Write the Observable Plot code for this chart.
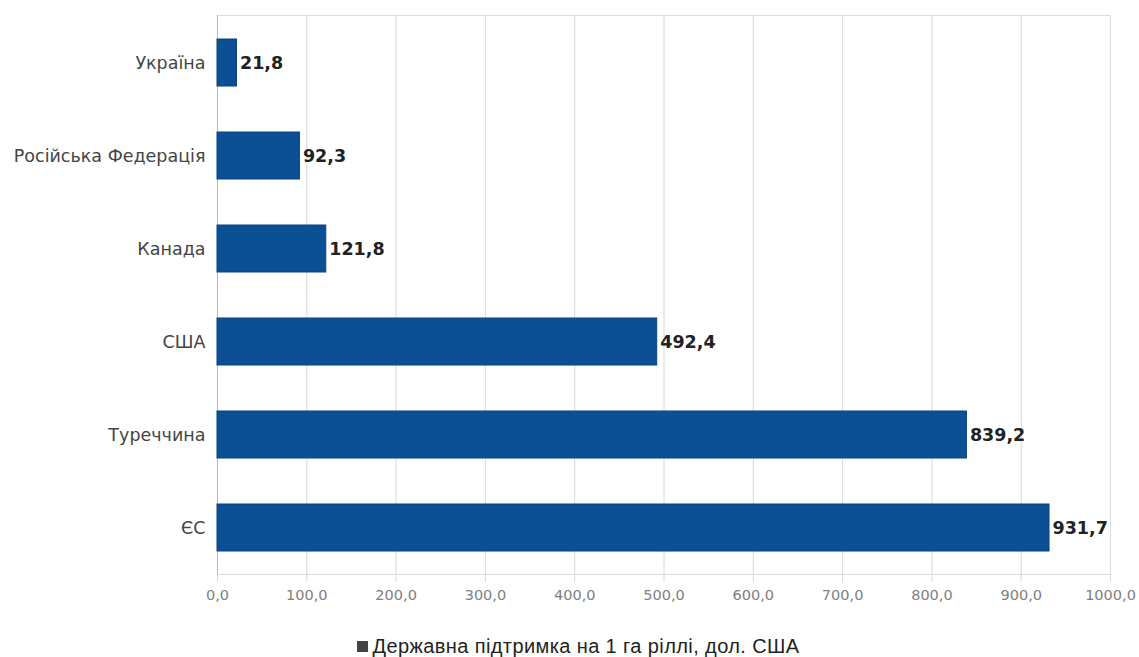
<!DOCTYPE html>
<html>
<head>
<meta charset="utf-8">
<script src="https://cdn.jsdelivr.net/npm/d3@7"></script>
<script src="https://cdn.jsdelivr.net/npm/@observablehq/plot@0.6"></script>
<style>
  html, body { margin: 0; padding: 0; background: #fff; }
  #chart svg { display: block; }
  #legend { font-family: "Liberation Sans", Arial, sans-serif; font-size: 20px; letter-spacing: 0.4px; color: #222;
    text-align: center; box-sizing: border-box; width: 1139px; height: 27px; line-height: 27px; padding-top: 3px; padding-left: 18px; }
  #legend .sw { display: inline-block; width: 11px; height: 11px; background: #444; margin-right: 4px; vertical-align: 1px; }
</style>
</head>
<body>
<div id="chart"></div>
<div id="legend"><span class="sw"></span>Державна підтримка на 1 га ріллі, дол. США</div>
<script>
const categories = ["Україна", "Російська Федерація", "Канада", "США", "Туреччина", "ЄС"];
const values = [21.8, 92.3, 121.8, 492.4, 839.2, 931.7];
const xTicks = [0, 100, 200, 300, 400, 500, 600, 700, 800, 900, 1000];

const data = categories.map((c, i) => ({category: c, value: values[i]}));
const fmt = v => v.toFixed(1).replace(".", ",");

const chart = Plot.plot({
  width: 1139,
  height: 630,
  marginLeft: 217,
  marginRight: 29,
  marginTop: 15,
  marginBottom: 56,
  style: {fontFamily: "DejaVu Sans, sans-serif", background: "#fff"},
  x: {domain: [0, 1000], ticks: xTicks, tickFormat: fmt, label: null},
  y: {domain: categories, paddingInner: 0.5, paddingOuter: 0.25, label: null},
  marks: [
    Plot.gridX(xTicks, {stroke: "#d8d8d8", strokeOpacity: 1}),
    Plot.frame({stroke: "#dcdcdc"}),
    Plot.ruleX([0], {stroke: "#b8b8b8"}),
    Plot.axisX({ticks: xTicks, tickFormat: fmt, tickSize: 8, stroke: "#d8d8d8", fill: "#808080", fontSize: 14.5, tickPadding: 7}),
    Plot.axisY({tickSize: 0, tickPadding: 12, fill: "#444", fontSize: 17.5}),
    Plot.barX(data, {x: "value", y: "category", fill: "#0b4f95", stroke: "#08427e", strokeWidth: 1}),
    Plot.text(data, {x: "value", y: "category", text: d => fmt(d.value), textAnchor: "start", dx: 3, fontWeight: "bold", fontSize: 17.5, fill: "#222"})
  ]
});
document.getElementById("chart").appendChild(chart);
</script>
</body>
</html>
